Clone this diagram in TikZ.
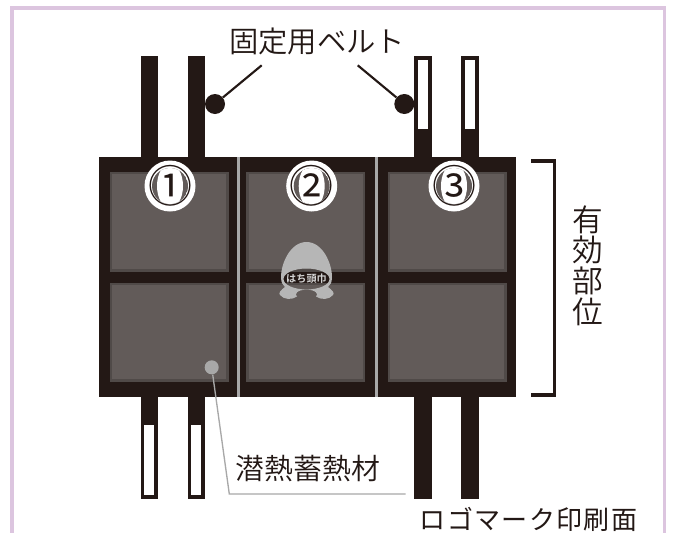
\documentclass[tikz,border=0pt]{standalone}
\usepackage{fontspec}
\newfontfamily\jp{Noto Sans CJK JP DemiLight}
\newfontfamily\jpr[LetterSpace=5]{Noto Sans CJK JP}
\newfontfamily\jpn{Noto Sans CJK JP}
\newfontfamily\jpb{Noto Sans CJK JP Bold}
\definecolor{ink}{HTML}{231815}
\definecolor{cellfill}{HTML}{625B59}
\definecolor{celledge}{HTML}{504A48}
\definecolor{leadgray}{HTML}{A8A8A8}
\definecolor{framec}{HTML}{DCC5DF}
\definecolor{logogray}{HTML}{B6B6B6}
\tikzset{
 x=0.75pt,y=-0.75pt,
 panelcell/.style={fill=cellfill,draw=celledge,line width=2.2pt},
 beltstrap/.style={fill=ink,draw=none},
 beltwhite/.style={fill=white,draw=none},
 lbl/.style={inner sep=0pt,font=\jp,text=ink,anchor=center},
 numdisc/.style={circle,fill=white,draw=none,minimum size=38.25pt,inner sep=0pt},
 callout/.style={line width=1.6pt,draw=ink},
 graylead/.style={line width=1pt,draw=leadgray},
 hubdot/.style={circle,fill=ink,draw=none,minimum size=15pt,inner sep=0pt},
 graydot/.style={circle,fill=leadgray,draw=none,minimum size=10.5pt,inner sep=0pt},
}
\begin{document}
\begin{tikzpicture}
\useasboundingbox (0,0) rectangle (673,532);
\fill[white] (0,0) rectangle (673,532);
\draw[framec,line width=2.8pt] (12,7.7) rectangle (664.5,548);
\foreach \x in {140.7,187.7,414,461}{
  \fill[beltstrap] (\x,55.5) rectangle (\x+17.5,160);
  \fill[beltstrap] (\x,394) rectangle (\x+17.5,499);
}
\foreach \x in {418,465}{\fill[beltwhite] (\x,59.5) rectangle (\x+9.5,129);}
\foreach \x in {144.3,191.3}{\fill[beltwhite] (\x,425) rectangle (\x+9.8,495);}
\fill[ink] (99,157.3) rectangle (516,396.5);
\foreach \x in {238.3,376.2}{\fill[leadgray] (\x-1.5,157.3) rectangle (\x+1.5,396.5);}
\foreach \x in {111,247.5,389}{
 \draw[panelcell] (\x,173) rectangle (\x+116.5,270.5);
 \draw[panelcell] (\x,284) rectangle (\x+116.5,380.5);
}
% logo mark
\fill[logogray,even odd rule]
 (306.5,242) .. controls (290,242) and (281,264) .. (281,277)
 .. controls (281,283) and (283,285) .. (285,287)
 .. controls (281,290) and (278,293) .. (280,295)
 .. controls (284,300) and (292,300) .. (297,296.5)
 .. controls (294,294) and (297,290) .. (306.5,289.5)
 .. controls (316,290) and (319,294) .. (316,296.5)
 .. controls (321,300) and (329,300) .. (333,295)
 .. controls (335,293) and (332,290) .. (328,287)
 .. controls (330,285) and (332,283) .. (332,277)
 .. controls (332,264) and (323,242) .. (306.5,242) -- cycle
 (306.5,279) ellipse [x radius=23, y radius=10.5];
\node[lbl,font=\jpb\fontsize{7.6}{7.6}\selectfont,text=logogray!60!white] (logomark) at (306.5,279) {はち頭巾};
\node[lbl,font=\jp\fontsize{22}{22}\selectfont] (title) at (317,41) {固定用ベルト};
\node[lbl,font=\jp\fontsize{21.7}{21.7}\selectfont] (pcm) at (308,468) {潜熱蓄熱材};
\node[lbl,font=\jp\fontsize{23}{23}\selectfont,align=center] (valid) at (588,265.5) {有\\効\\部\\位};
\node[lbl,font=\jpr\fontsize{19.5}{19.5}\selectfont] (logo) at (528.5,519) {ロゴマーク印刷面};
\node[hubdot] (d1) at (215,104) {};
\node[hubdot] (d2) at (404.3,104) {};
\coordinate (e1) at (261.7,65.3);
\coordinate (e2) at (357.7,65.3);
\draw[callout] (d1) -- (e1);
\draw[callout] (d2) -- (e2);
\node[graydot] (d3) at (211.7,367.3) {};
\coordinate (b3) at (229.3,494);
\coordinate (e3) at (405.7,494);
\draw[graylead] (d3) -- (b3) -- (e3);
\coordinate (bt1) at (531,161);
\coordinate (bt2) at (554.7,161);
\coordinate (bt3) at (554.7,395);
\coordinate (bt4) at (531,395);
\draw[ink,line width=2.4pt] (bt1) -- (bt2) -- (bt3) -- (bt4);
\foreach \n/\x/\t in {a/170/①,b/311.7/②,c/454/③}{
 \node[numdisc] (\n) at (\x,186) {};
 \begin{scope}
  \clip (\x,186) circle (18);
  \fill[cellfill] (\x,186) circle (18);
  \fill[white] (\x,186) ellipse [x radius=13, y radius=22];
 \end{scope}
 \node[lbl,font=\jpn\fontsize{33}{33}\selectfont] at (\x,186) {\t};
}
\end{tikzpicture}
\end{document}
